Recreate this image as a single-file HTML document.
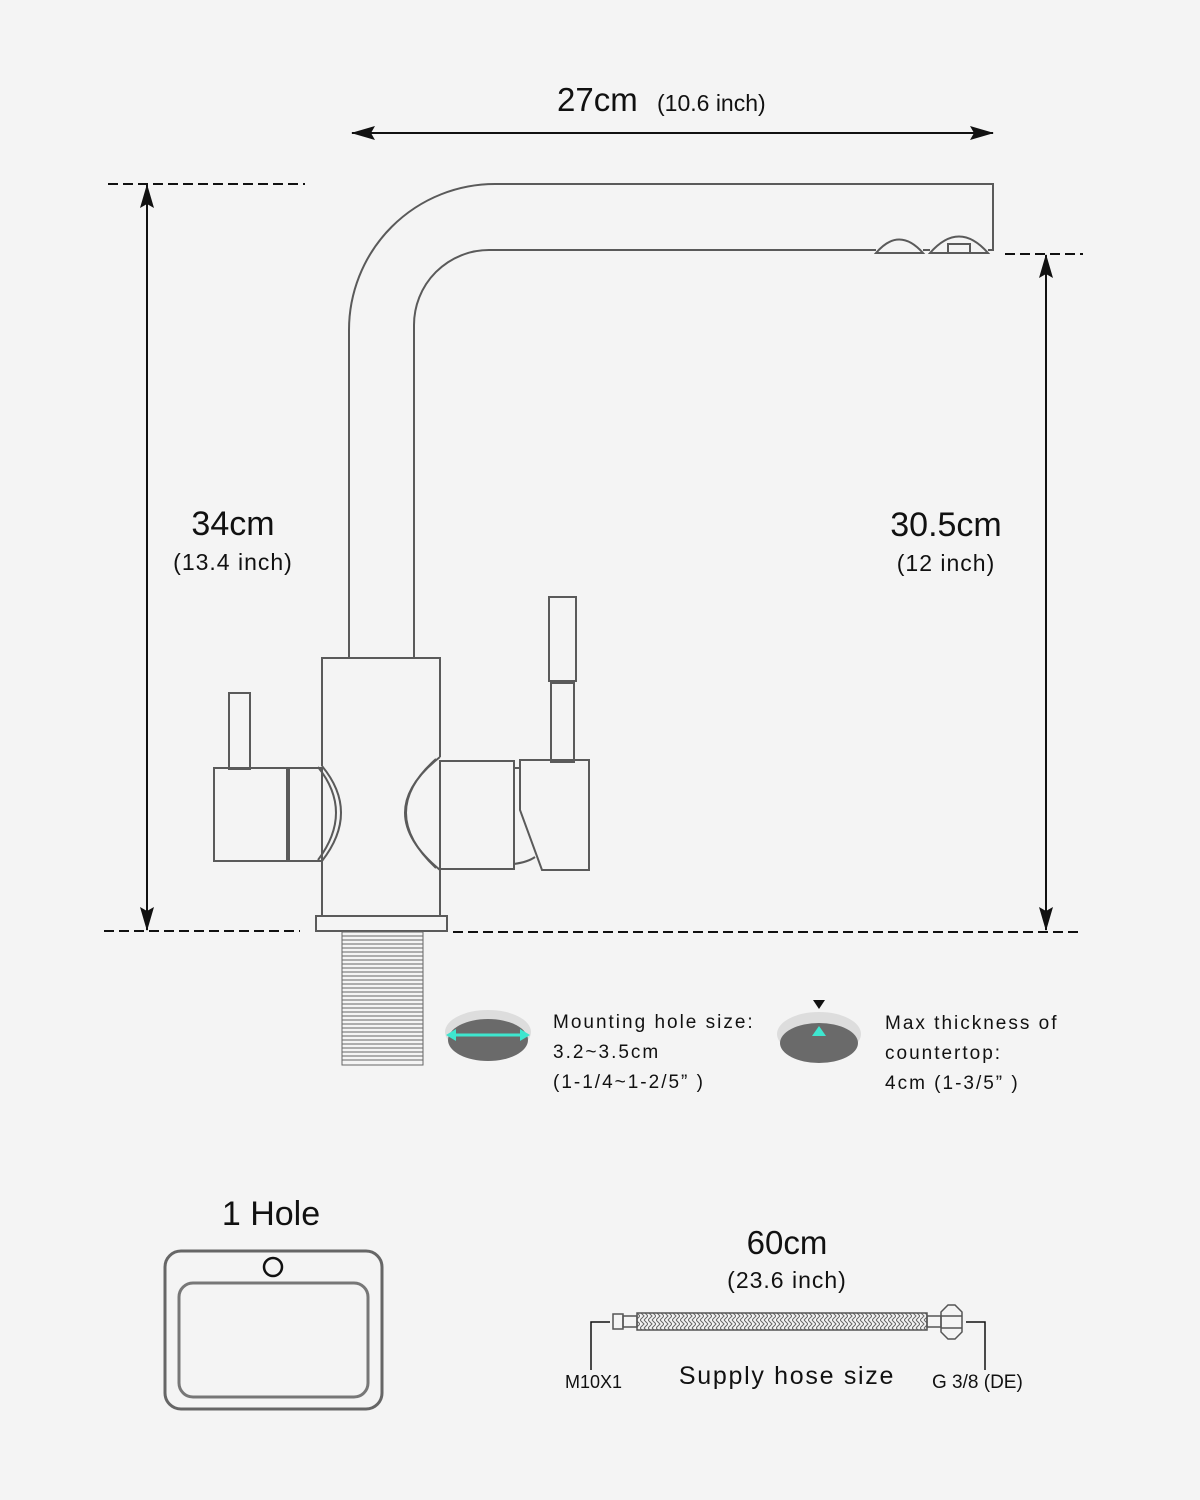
<!DOCTYPE html>
<html><head><meta charset="utf-8"><style>
html,body{margin:0;padding:0;background:#f4f4f4;}
svg{display:block;}
text{font-family:"Liberation Sans",sans-serif;fill:#111;}
.s{letter-spacing:2px;}
</style></head><body>
<svg width="1200" height="1500" viewBox="0 0 1200 1500" xmlns="http://www.w3.org/2000/svg">
<rect width="1200" height="1500" fill="#f4f4f4"/>
<defs>
<marker id="ah2" markerWidth="24" markerHeight="14" refX="23" refY="7" orient="auto" markerUnits="userSpaceOnUse">
<path d="M0,0 L24,7 L0,14 L4,7 Z" fill="#111"/></marker>
<pattern id="braid" width="8" height="8" patternUnits="userSpaceOnUse">
<path d="M0,0 L4,4 L0,8 M4,0 L8,4 L4,8" stroke="#666" stroke-width="1" fill="none"/></pattern>
</defs>

<g stroke="#111" stroke-width="2" fill="none">
<line x1="370" y1="133" x2="993" y2="133" marker-end="url(#ah2)"/>
<line x1="975" y1="133" x2="352" y2="133" marker-end="url(#ah2)"/>
<line x1="147" y1="910" x2="147" y2="185" marker-end="url(#ah2)"/>
<line x1="147" y1="200" x2="147" y2="930" marker-end="url(#ah2)"/>
<line x1="1046" y1="910" x2="1046" y2="255" marker-end="url(#ah2)"/>
<line x1="1046" y1="270" x2="1046" y2="930" marker-end="url(#ah2)"/>
</g>
<g stroke="#111" stroke-width="2" stroke-dasharray="10,5" fill="none">
<line x1="108" y1="184" x2="305" y2="184"/>
<line x1="104" y1="931" x2="300" y2="931"/>
<line x1="453" y1="932" x2="1083" y2="932"/>
<line x1="1005" y1="254" x2="1083" y2="254"/>
</g>

<g stroke="#5a5a5a" stroke-width="2" fill="none">
<path d="M349,658 V330 A146,146 0 0 1 495,184 H993 V250 H988"/>
<path d="M414,658 V325 A75,75 0 0 1 489,250 H876"/>
<path d="M876,253 Q899,226 923,253 Z"/>
<path d="M923,250 H930"/>
<path d="M930,253 Q959,220 988,253 Z"/>
<rect x="948" y="244" width="22" height="9"/>
<path d="M322,766 V658 H440 V757"/>
<path d="M322,861 V915 M440,870 V915"/>
<rect x="316" y="916" width="131" height="15"/>
<rect x="214" y="768" width="73" height="93"/>
<rect x="289" y="768" width="33" height="93"/>
<rect x="229" y="693" width="21" height="76"/>
<path d="M322,766 Q360,812 322,861"/>
<path d="M318,767 Q354,812 318,860"/>
<path d="M440,757 Q370,812 440,870"/>
<path d="M436,759 Q376,812 436,868"/>
<rect x="440" y="761" width="74" height="108"/>
<path d="M514,768 H520 M514,864 Q528,862 535,857"/>
<path d="M520,760 H589 V870 H542 L520,810 Z"/>
<rect x="549" y="597" width="27" height="84"/>
<rect x="551" y="683" width="23" height="79"/>
</g>
<g stroke="#666" stroke-width="1">
<rect x="342" y="932" width="81" height="133" fill="none"/>
<path d="M342,936H423M342,940H423M342,944H423M342,948H423M342,952H423M342,956H423M342,960H423M342,964H423M342,968H423M342,972H423M342,976H423M342,980H423M342,984H423M342,988H423M342,992H423M342,996H423M342,1000H423M342,1004H423M342,1008H423M342,1012H423M342,1016H423M342,1020H423M342,1024H423M342,1028H423M342,1032H423M342,1036H423M342,1040H423M342,1044H423M342,1048H423M342,1052H423M342,1056H423M342,1060H423"/>
</g>

<ellipse cx="488" cy="1032" rx="43" ry="22" fill="#ddd"/>
<ellipse cx="488" cy="1040" rx="40" ry="21" fill="#6a6a6a"/>
<line x1="452" y1="1035" x2="524" y2="1035" stroke="#3ee6cf" stroke-width="3"/>
<path d="M446,1035 L456,1029 L456,1041Z M530,1035 L520,1029 L520,1041Z" fill="#3ee6cf"/>
<ellipse cx="819" cy="1034" rx="42" ry="22" fill="#ddd"/>
<ellipse cx="819" cy="1043" rx="39" ry="20" fill="#6a6a6a"/>
<path d="M819,1026 L826,1036 L812,1036Z" fill="#3ee6cf"/>
<path d="M813,1000 L825,1000 L819,1009Z" fill="#111"/>

<rect x="165" y="1251" width="217" height="158" rx="16" fill="none" stroke="#666" stroke-width="3"/>
<rect x="179" y="1283" width="189" height="114" rx="14" fill="none" stroke="#777" stroke-width="3"/>
<circle cx="273" cy="1267" r="9" fill="none" stroke="#111" stroke-width="2.5"/>

<g stroke="#555" stroke-width="1.5" fill="none">
<rect x="637" y="1313" width="290" height="17" fill="url(#braid)"/>
<rect x="613" y="1314" width="10" height="15"/>
<rect x="623" y="1316" width="14" height="11"/>
<rect x="927" y="1316" width="14" height="11"/>
<path d="M941,1312 L948,1305 L955,1305 L962,1312 V1332 L955,1339 L948,1339 L941,1332 Z"/>
<path d="M941,1316 H962 M941,1328 H962"/>
</g>
<path d="M610,1322 H591 V1370 M966,1322 H985 V1370" stroke="#111" stroke-width="1.5" fill="none"/>

<text x="557" y="111" font-size="33">27cm</text>
<text x="657" y="111" font-size="23">(10.6 inch)</text>
<text x="233" y="535" font-size="34" text-anchor="middle">34cm</text>
<text x="233" y="570" font-size="23" text-anchor="middle" class="s" style="letter-spacing:1px">(13.4 inch)</text>
<text x="946" y="536" font-size="34" text-anchor="middle">30.5cm</text>
<text x="946" y="571" font-size="23" text-anchor="middle" style="letter-spacing:1px">(12 inch)</text>
<text x="553" y="1028" font-size="19" class="s">Mounting hole size:</text>
<text x="553" y="1058" font-size="19" class="s">3.2~3.5cm</text>
<text x="553" y="1088" font-size="19" class="s">(1-1/4~1-2/5” )</text>
<text x="885" y="1029" font-size="19" class="s">Max thickness of</text>
<text x="885" y="1059" font-size="19" class="s">countertop:</text>
<text x="885" y="1089" font-size="19" class="s">4cm (1-3/5” )</text>
<text x="271" y="1225" font-size="34" text-anchor="middle">1 Hole</text>
<text x="787" y="1254" font-size="33" text-anchor="middle">60cm</text>
<text x="787" y="1288" font-size="23" text-anchor="middle" style="letter-spacing:1px">(23.6 inch)</text>
<text x="565" y="1388" font-size="18">M10X1</text>
<text x="787" y="1384" font-size="25" text-anchor="middle" style="letter-spacing:1.7px">Supply hose size</text>
<text x="932" y="1388" font-size="19">G 3/8 (DE)</text>
</svg>
</body></html>
